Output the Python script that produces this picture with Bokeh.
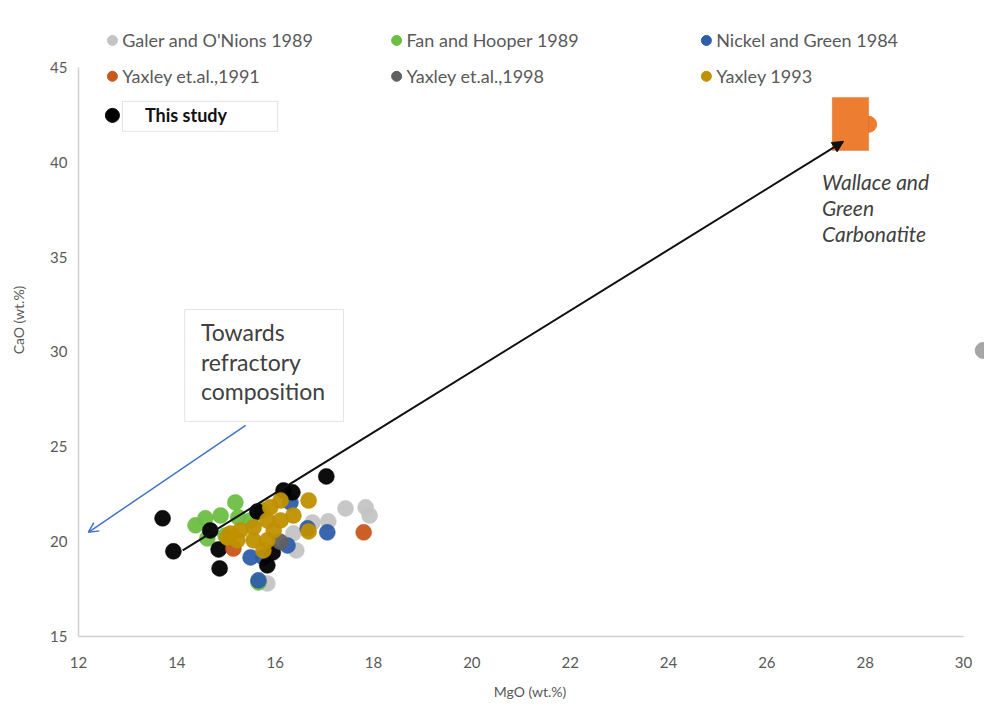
from bokeh.plotting import figure
from bokeh.models import (Range1d, Label, Arrow, NormalHead, OpenHead, BoxAnnotation,
                          FixedTicker)
from bokeh.embed import file_html
from bokeh.resources import INLINE

# ---------------- data (MgO wt.%, CaO wt.%) ----------------
galer_mgo = [17.43, 17.84, 17.92, 17.08, 16.76, 16.37, 15.84, 16.43]
galer_cao = [21.75, 21.81, 21.38, 21.07, 21.01, 20.44, 17.80, 19.54]

fan_mgo = [14.38, 14.58, 14.89, 15.19, 15.25, 15.50, 14.62, 15.74, 15.66, 14.99]
fan_cao = [20.86, 21.23, 21.38, 22.07, 21.28, 21.12, 20.17, 21.65, 17.85, 20.33]

nickel_mgo = [17.06, 16.25, 15.50, 15.66, 16.31, 16.66, 15.76]
nickel_cao = [20.49, 19.80, 19.17, 17.96, 22.07, 20.70, 19.17]

yax91_mgo = [17.80, 15.15]
yax91_cao = [20.49, 19.64]

yax98_mgo = [16.10]
yax98_cao = [20.00]

yax93_mgo = [16.68, 16.68, 16.37, 16.11, 15.90, 15.84, 15.56, 15.29, 15.03, 15.23,
             15.56, 15.84, 15.76, 15.97, 16.11, 15.09]
yax93_cao = [22.17, 20.54, 21.38, 22.17, 21.81, 21.12, 20.75, 20.59, 20.22, 20.07,
             20.07, 20.07, 19.54, 20.59, 21.12, 20.43]

study_mgo = [13.71, 13.93, 14.68, 14.87, 15.64, 16.17, 16.35, 17.04, 15.84, 14.85, 15.95]
study_cao = [21.23, 19.49, 20.59, 18.59, 21.59, 22.70, 22.60, 23.44, 18.75, 19.59, 19.43]

wallace_mgo = [28.07]
wallace_cao = [42.00]

edge_mgo = [30.40]
edge_cao = [30.08]

series_names = ["Galer and O'Nions 1989", "Fan and Hooper 1989", "Nickel and Green 1984",
                "Yaxley et.al.,1991", "Yaxley et.al.,1998", "Yaxley 1993"]
series_colors = ["#C4C4C4", "#6DBE45", "#2E5EA8", "#C9561A", "#606060", "#BF9000"]

x_ticks = [12, 14, 16, 18, 20, 22, 24, 26, 28, 30]
y_ticks = [15, 20, 25, 30, 35, 40, 45]

# ---------------- figure ----------------
FONT = "Lato"
TXT = "#595959"

p = figure(width=984, height=707, output_backend="svg", toolbar_location=None,
           x_range=Range1d(11.939, 30.426), y_range=Range1d(14.842, 48.527),
           min_border_left=75, min_border_right=0, min_border_top=0, min_border_bottom=68,
           background_fill_color="white", border_fill_color="white")
p.outline_line_color = None
p.grid.visible = False

for ax in (p.xaxis[0], p.yaxis[0]):
    ax.axis_line_color = None
    ax.major_tick_line_color = None
    ax.minor_tick_line_color = None
    ax.major_tick_out = 0
    ax.major_tick_in = 0
    ax.major_label_text_font = FONT
    ax.major_label_text_font_size = "15px"
    ax.major_label_text_color = TXT
    ax.axis_label_text_font = FONT
    ax.axis_label_text_font_size = "14px"
    ax.axis_label_text_font_style = "normal"
    ax.axis_label_text_color = TXT

p.xaxis.ticker = FixedTicker(ticks=x_ticks)
p.yaxis.ticker = FixedTicker(ticks=y_ticks)
p.xaxis.axis_label = "MgO (wt.%)"
p.yaxis.axis_label = "CaO (wt.%)"
p.xaxis.major_label_standoff = 17
p.xaxis.axis_label_standoff = 12
p.yaxis.major_label_standoff = 8
p.yaxis.axis_label_standoff = 20

# axis lines (drawn only over the tick span)
p.segment(x0=[x_ticks[0]], y0=[y_ticks[0]], x1=[x_ticks[-1]], y1=[y_ticks[0]],
          line_color="#D0D0D0", line_width=1.5)
p.segment(x0=[x_ticks[0]], y0=[y_ticks[0]], x1=[x_ticks[0]], y1=[y_ticks[-1]],
          line_color="#D0D0D0", line_width=1.5)

# ---------------- points ----------------
SIZE = 16
p.scatter(wallace_mgo, wallace_cao, size=SIZE, color="#ED7D31")
p.scatter(edge_mgo, edge_cao, size=SIZE, color="#A6A6A6")

layers = [
    (galer_mgo, galer_cao, series_colors[0]),
    (fan_mgo, fan_cao, series_colors[1]),
    (nickel_mgo, nickel_cao, series_colors[2]),
    (study_mgo, study_cao, "#000000"),
    (yax91_mgo, yax91_cao, series_colors[3]),
    (yax98_mgo, yax98_cao, series_colors[4]),
    (yax93_mgo, yax93_cao, series_colors[5]),
]
for xs, ys, c in layers:
    p.scatter(xs, ys, size=SIZE, fill_color=c, line_color=c, line_alpha=0.5, fill_alpha=0.95)

# ---------------- legend (drawn by hand, Excel-like layout) ----------------
leg_cols = [12.69, 18.47, 24.77]
leg_rows = [46.42, 44.53]
for i, (name, col) in enumerate(zip(series_names, series_colors)):
    lx = leg_cols[i % 3]
    ly = leg_rows[i // 3]
    p.scatter([lx], [ly], size=10, color=col)
    p.add_layout(Label(x=lx + 0.2, y=ly, text=name, text_font=FONT, text_font_size="18px",
                       text_color=TXT, text_baseline="middle", text_align="left"))

# "This study" legend entry with a box
p.scatter([12.69], [42.47], size=14, color="#000000")
p.add_layout(BoxAnnotation(left=12.895, right=16.05, top=43.21, bottom=41.63,
                           fill_color="white", fill_alpha=1.0,
                           line_color="#A6A6A6", line_width=1))
p.add_layout(Label(x=13.35, y=42.50, text="This study", text_font=FONT, text_font_size="18px",
                   text_font_style="bold", text_color="#111111", text_baseline="middle"))

# ---------------- annotations ----------------
# Wallace and Green carbonatite block
p.add_layout(BoxAnnotation(left=27.33, right=28.07, top=43.42, bottom=40.62,
                           fill_color="#ED7D31", fill_alpha=1.0,
                           line_color="#C55A11", line_width=1))
for k, t in enumerate(["Wallace and", "Green", "Carbonatite"]):
    p.add_layout(Label(x=27.12, y=39.0 - k * 1.39, text=t, text_font=FONT,
                       text_font_size="21px", text_font_style="italic",
                       text_color="#404040", text_baseline="middle"))

# Towards refractory composition box
p.add_layout(BoxAnnotation(left=14.16, right=17.39, top=32.24, bottom=26.34,
                           fill_color="white", fill_alpha=1.0,
                           line_color="#A6A6A6", line_width=1))
for k, t in enumerate(["Towards", "refractory", "composition"]):
    p.add_layout(Label(x=14.49, y=31.05 - k * 1.56, text=t, text_font=FONT,
                       text_font_size="23px", text_color="#404040", text_baseline="middle"))

# arrows
p.add_layout(Arrow(x_start=14.12, y_start=19.54, x_end=27.56, y_end=41.10,
                   line_color="#111111", line_width=2,
                   end=NormalHead(size=11, fill_color="#111111", line_color="#111111")))
p.add_layout(Arrow(x_start=15.40, y_start=26.13, x_end=12.20, y_end=20.49,
                   line_color="#4472C4", line_width=1.5,
                   end=OpenHead(size=10, line_color="#4472C4", line_width=1.5)))

open("out.html", "w").write(file_html(p, INLINE))
